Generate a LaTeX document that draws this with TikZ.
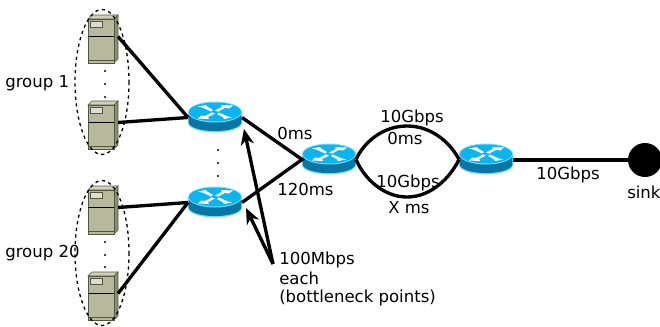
\documentclass[tikz,border=0pt]{standalone}
\usepackage{fontspec}
\setmainfont{DejaVu Sans}
\usetikzlibrary{arrows.meta}
\definecolor{srvfront}{HTML}{B8B89C}
\definecolor{srvside}{HTML}{8E8E72}
\definecolor{srvtop}{HTML}{D0D0BC}
\definecolor{srvline}{HTML}{55553F}
\definecolor{rtop}{HTML}{0CB4F0}
\definecolor{rbody}{HTML}{0877A8}
\definecolor{rrim}{HTML}{7FDDF8}
\tikzset{
  link/.style={line width=2.5pt,black},
  arrowlink/.style={line width=2.5pt,black,-{Stealth[length=12pt,width=10pt]}},
  lbl/.style={font=\fontsize{12.4}{14}\selectfont,inner sep=0pt,anchor=base west,align=left},
  vdot/.style={circle,fill=black,inner sep=0pt,minimum size=1.6pt},
  grp/.style={line width=1pt,dash pattern=on 2.4pt off 2.6pt},
}
% server: #1 name, #2 left of front, #3 top of front
\newcommand{\srv}[3]{%
  \begin{scope}[shift={(#2,#3)}]
    \fill[srvtop,draw=srvline,line width=0.4pt] (0,0) -- (4,-4) -- (30,-4) -- (26,0) -- cycle;
    \fill[srvside,draw=srvline,line width=0.4pt] (26,0) -- (30,-4) -- (30,40) -- (26,44) -- cycle;
    \fill[srvfront,draw=srvline,line width=0.5pt] (0,0) rectangle (26,44);
    \draw[black,line width=0.9pt] (0,17.5) -- (26,17.5);
    \fill[srvtop!70!white,draw=srvline,line width=0.4pt] (2,2) rectangle (14,8.5);
    \draw[srvline,line width=0.4pt] (0,41) -- (26,41);
  \end{scope}
  \coordinate (#1) at (#2+30,#3+17.5);
}
% router: #1 name, #2 centre x, #3 top-ellipse centre y
\newcommand{\rtr}[3]{%
  \begin{scope}[shift={(#2,#3)}]
    \fill[rrim] (-27,0) -- (-27,11) arc[start angle=180,end angle=0,x radius=27,y radius=9.5] -- (27,0) -- cycle;
    \fill[rbody] (-26.3,0) -- (-26.3,10.3) arc[start angle=180,end angle=0,x radius=26.3,y radius=8.8] -- (26.3,0) -- cycle;
    \fill[rrim] (0,0) ellipse[x radius=27,y radius=10.5];
    \fill[rtop] (0,0) ellipse[x radius=26,y radius=9.5];
    \fill[white] (-17,-5.5) -- (-9,-7) -- (-8,-5.5) -- (-2,-2) -- (-4,-0.5) -- (-12,-4.2) -- cycle;
    \fill[white] (18,-6.5) -- (6,-7) -- (7,-5.2) -- (0,-1.5) -- (3,-0.3) -- (10,-4.2) -- (14,-3.5) -- cycle;
    \fill[white] (-17,6.5) -- (-6,7) -- (-7,5) -- (0,1.5) -- (-3,0.3) -- (-10,4) -- (-14,3.5) -- cycle;
    \fill[white] (17,5.5) -- (9,7) -- (8,5.2) -- (2,2) -- (4,0.5) -- (12,4.2) -- cycle;
  \end{scope}
  \coordinate (#1w) at (#2-27,#3+5.5);
  \coordinate (#1e) at (#2+27,#3+5.5);
}
\begin{document}
\begin{tikzpicture}[x=0.75pt,y=-0.75pt]
\useasboundingbox (0,0) rectangle (660,326);
\srv{sa}{88}{19}
\srv{sb}{88}{105}
\srv{sc}{88}{190}
\srv{sd}{88}{276}
\rtr{ra}{215}{112}
\rtr{rb}{215}{197}
\rtr{rc}{329}{154}
\rtr{rd}{486}{154}
\draw[grp] (102,82) ellipse[x radius=27,y radius=72.5];
\draw[grp] (102,253) ellipse[x radius=27,y radius=72.5];
\foreach \n/\x/\y in {d1/105/71,d2/105/84,d3/105/97,d4/105/242,d5/105/255,d6/105/267,d7/218/150,d8/218/163,d9/218/176}
  \node[vdot] (\n) at (\x,\y) {};
\node[circle,fill=black,inner sep=0pt,minimum size=25.5pt] (sink) at (645,160) {};
\coordinate (rdout) at (513,160);
\draw[link] (sa) -- (raw);
\draw[link] (sb) -- (raw);
\draw[link] (sc) -- (rbw);
\draw[link] (sd) -- (rbw);
\draw[link] (rae) -- (rcw) -- (rbe);
\draw[link] (rce) .. controls (364,142) and (383,126) .. (407,126) .. controls (431,126) and (450,142) .. (rdw);
\draw[link] (rce) .. controls (364,178) and (383,197) .. (407,197) .. controls (431,197) and (450,178) .. (rdw);
\draw[link] (rdout) -- (sink);
\coordinate (bn) at (273,264);
\coordinate (taa) at (244,129);
\coordinate (tab) at (246,208);
\draw[arrowlink] (bn) -- (taa);
\draw[arrowlink] (bn) -- (tab);
\node[lbl] (t1) at (5,87) {group 1};
\node[lbl] (t2) at (5,257) {group 20};
\node[lbl] (t3) at (277,139) {0ms};
\node[lbl] (t4) at (277,195) {120ms};
\node[lbl] (t5) at (380,122) {10Gbps};
\node[lbl] (t6) at (387,144) {0ms};
\node[lbl] (t7) at (376,187) {10Gbps};
\node[lbl] (t8) at (388,213) {X ms};
\node[lbl] (t9) at (536,179) {10Gbps};
\node[lbl] (t10) at (627,198) {sink};
\node[lbl] (t11) at (279,264) {100Mbps};
\node[lbl] (t12) at (279,284) {each};
\node[lbl] (t13) at (279,302) {(bottleneck points)};
\end{tikzpicture}
\end{document}
